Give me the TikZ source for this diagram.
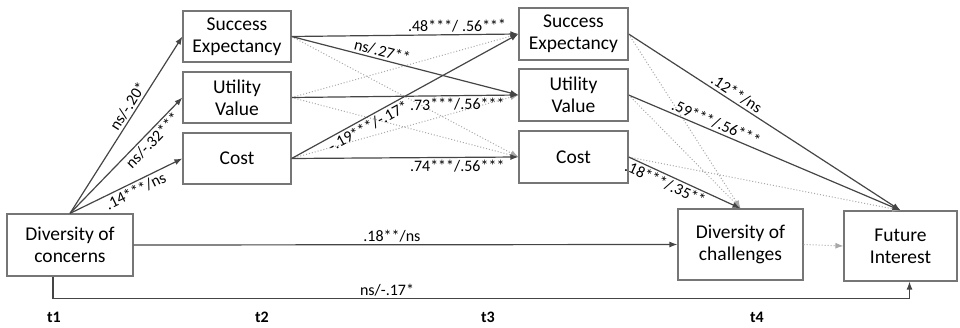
\documentclass[tikz,border=0pt]{standalone}
\usepackage{fontspec}
\setmainfont{Carlito}
\usetikzlibrary{arrows.meta, calc}
\definecolor{pathgray}{HTML}{454545}
\definecolor{boxgray}{HTML}{767676}
\definecolor{dotgray}{HTML}{A8A8A8}

\begin{document}
\begin{tikzpicture}[x=1pt, y=-1pt,
  var/.style={draw=boxgray, line width=1.2pt, fill=white, align=center, inner sep=0pt, font=\fontsize{19.5}{22}\selectfont},
  sig/.style={draw=pathgray, line width=1.2pt, -{Latex[length=8pt,width=6pt]}},
  nsig/.style={draw=dotgray, line width=1pt, dotted, -{Latex[length=8pt,width=6pt]}},
  coef/.style={font=\fontsize{16}{18}\selectfont, sloped, inner sep=2pt},
  time/.style={font=\bfseries\fontsize{16}{18}\selectfont, anchor=base, inner sep=0pt}]
\useasboundingbox (0,0) rectangle (960,328);

\node[var, minimum width=126pt, minimum height=62pt] (dc1) at (70,245) {Diversity of\\concerns};
\node[var, minimum width=108pt, minimum height=51pt] (se2) at (237,36.5) {Success\\Expectancy};
\node[var, minimum width=108pt, minimum height=51pt] (uv2) at (237,97.5) {Utility\\Value};
\node[var, minimum width=108pt, minimum height=51pt] (co2) at (237,158.5) {Cost};
\node[var, minimum width=109pt, minimum height=52pt] (se3) at (573.5,34) {Success\\Expectancy};
\node[var, minimum width=109pt, minimum height=52pt] (uv3) at (573.5,95) {Utility\\Value};
\node[var, minimum width=109pt, minimum height=52pt] (co3) at (573.5,157) {Cost};
\node[var, minimum width=125pt, minimum height=71pt] (dc4) at (740.5,244.5) {Diversity of\\challenges};
\node[var, minimum width=113pt, minimum height=70pt] (fi) at (900.5,246) {Future\\Interest};

\draw[sig] (dc1.north) -- node[coef, above, pos=0.58] {ns/-.20*} (se2.west);
\draw[sig] (dc1.north) -- node[coef, below, pos=0.68] {ns/-.32***} (uv2.west);
\draw[sig] (dc1.north) -- node[coef, below, pos=0.55] {.14***/ns} (co2.west);

\draw[nsig] (se2.east) -- (co3.west);
\draw[nsig] (uv2.east) -- (se3.west);
\draw[nsig] (uv2.east) -- (co3.west);
\draw[nsig] (co2.east) -- (uv3.west);
\draw[sig] (se2.east) -- node[coef, above, pos=0.73] {.48***/ .56***} (se3.west);
\draw[sig] (se2.east) -- node[coef, above, pos=0.39] {ns/.27**} (uv3.west);
\draw[sig] (uv2.east) -- node[coef, below, pos=0.73] {.73***/.56***} (uv3.west);
\draw[sig] (co2.east) -- node[coef, below, pos=0.32] {-.19***/-.17*} (se3.west);
\draw[sig] (co2.east) -- node[coef, below, pos=0.73] {.74***/.56***} (co3.west);

\draw[nsig] (se3.east) -- (dc4.north);
\draw[nsig] (uv3.east) -- (dc4.north);
\draw[nsig] (co3.east) -- (fi.north);
\draw[sig] (se3.east) -- node[coef, above, pos=0.38] {.12**/ns} (fi.north);
\draw[sig] (uv3.east) -- node[coef, above, pos=0.31] {.59***/.56***} (fi.north);
\draw[sig] (co3.east) -- node[coef, below, pos=0.36] {.18***/.35**} (dc4.north);

\draw[sig] (dc1.east) -- node[coef, above, pos=0.475] {.18**/ns} (dc4.west);
\draw[nsig] (dc4.east) -- (fi.west);
\draw[sig] ([xshift=-17pt]dc1.south) -- ++(0,22) -| node[coef, above, pos=0.195] {ns/-.17*} ([xshift=9pt]fi.south);

\node[time] (t1) at (54,323) {t1};
\node[time] (t2) at (262,323) {t2};
\node[time] (t3) at (488,323) {t3};
\node[time] (t4) at (757,323) {t4};
\end{tikzpicture}
\end{document}
